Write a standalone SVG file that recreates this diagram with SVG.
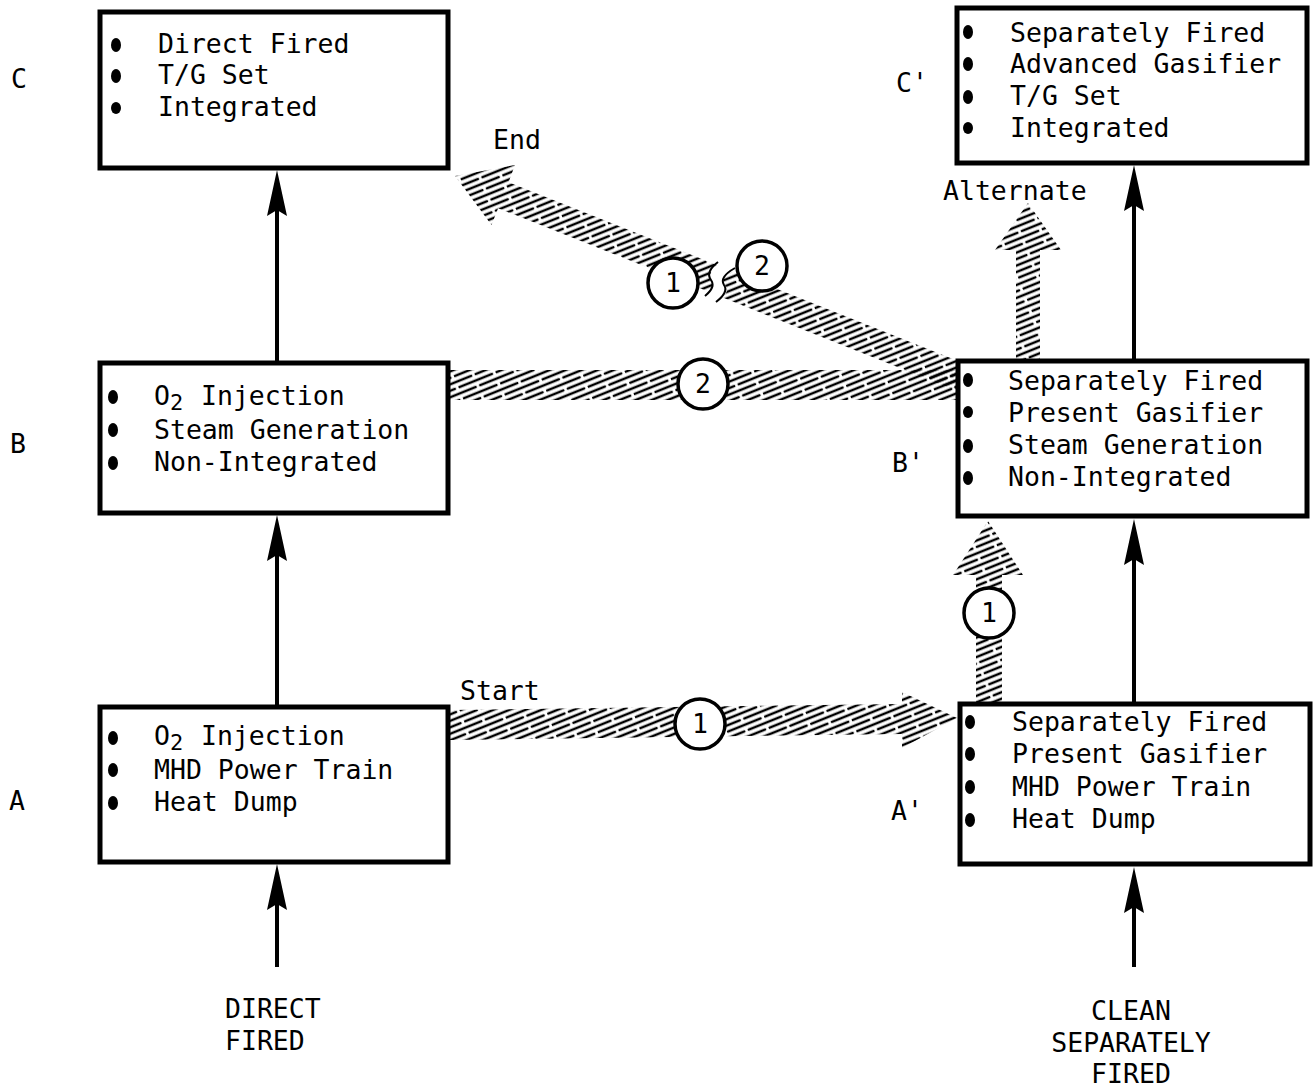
<svg xmlns="http://www.w3.org/2000/svg" xmlns:xlink="http://www.w3.org/1999/xlink" width="1316" height="1090" viewBox="0 0 1316 1090">
<style>
.box{fill:#fff;stroke:#000;stroke-width:5}
.t{font-family:"DejaVu Sans Mono","Liberation Mono",monospace;font-size:26.5px;fill:#000}
.sub{font-size:22px}
.tm{font-family:"DejaVu Sans Mono","Liberation Mono",monospace;font-size:26.5px;fill:#000;text-anchor:middle}
.bul{fill:#000}
.ln{stroke:#000;stroke-width:4;fill:none}
.band{fill:url(#hatch);stroke:none}
.circ{fill:#fff;stroke:#000;stroke-width:3.5}
.cut{fill:none;stroke:#000;stroke-width:2}
</style>
<defs>
<pattern id="hatch" patternUnits="userSpaceOnUse" width="40" height="12" patternTransform="rotate(-22)">
<g stroke="#000" stroke-width="2.6" stroke-linecap="round">
<line x1="1" y1="3" x2="36" y2="3"/>
<line x1="-19" y1="9" x2="16" y2="9"/>
<line x1="21" y1="9" x2="56" y2="9"/>
</g>
</pattern>
<path id="ahead" d="M0,0 L10,46 L0,40 L-10,46 Z" fill="#000"/>
</defs>
<rect width="1316" height="1090" fill="#fff"/>

<g id="connectors">
<line class="ln" x1="277" y1="363" x2="277" y2="200"/>
<use xlink:href="#ahead" x="277" y="170"/>
<line class="ln" x1="277" y1="707" x2="277" y2="545"/>
<use xlink:href="#ahead" x="277" y="515"/>
<line class="ln" x1="277" y1="967" x2="277" y2="895"/>
<use xlink:href="#ahead" x="277" y="864"/>
<line class="ln" x1="1134" y1="361" x2="1134" y2="195"/>
<use xlink:href="#ahead" x="1134" y="165"/>
<line class="ln" x1="1134" y1="704" x2="1134" y2="548"/>
<use xlink:href="#ahead" x="1134" y="519"/>
<line class="ln" x1="1134" y1="967" x2="1134" y2="897"/>
<use xlink:href="#ahead" x="1134" y="867"/>

<polygon class="band" points="450,710 902,704 902,692 957,718 902,748 902,734 450,740"/>
<polygon class="band" points="450,370 958,370 958,400 450,400"/>
<polygon class="band" points="976,704 976,575 953,575 988,521 1023,575 1002,575 1002,704"/>
<polygon class="band" points="1016,361 1016,250 995,250 1028,203 1061,250 1040,250 1040,361"/>
<path class="band" d="M455,176 L515,165 L508.5,182.2 L717,265 Q706,276 712,281 Q716,287 707,291 L498.1,208.2 L491.5,225 Z"/>
<path class="band" d="M733,271.6 L958,361 L958,391 L722.8,297.6 Q730,290 725,285 Q720,278 733,271.6 Z"/>
<path class="cut" d="M718,262 Q705,272 711,280 Q716,287 705,296"/>
<path class="cut" d="M735,268 Q719,277 724,285 Q729,292 716,302"/>

<circle class="circ" cx="700" cy="724" r="25"/>
<text class="tm" x="700" y="733">1</text>
<circle class="circ" cx="703" cy="384" r="25"/>
<text class="tm" x="703" y="393">2</text>
<circle class="circ" cx="989" cy="613" r="25"/>
<text class="tm" x="989" y="622">1</text>
<circle class="circ" cx="673" cy="283" r="25"/>
<text class="tm" x="673" y="292">1</text>
<circle class="circ" cx="762" cy="266" r="25"/>
<text class="tm" x="762" y="275">2</text>

<text class="t" x="493" y="149">End</text>
<text class="t" x="460" y="700">Start</text>
<text class="t" x="943" y="200">Alternate</text>
</g>

<g id="nodeC">
<rect class="box" x="100" y="12" width="348" height="156"/>
<ellipse class="bul" cx="116" cy="45" rx="5" ry="7"/>
<ellipse class="bul" cx="116" cy="76" rx="5" ry="7"/>
<ellipse class="bul" cx="116" cy="108" rx="5" ry="6"/>
<text class="t" x="158" y="53">Direct Fired</text>
<text class="t" x="158" y="84">T/G Set</text>
<text class="t" x="158" y="116">Integrated</text>
<text class="t" x="11" y="88">C</text>
</g>

<g id="nodeB">
<rect class="box" x="100" y="363" width="348" height="150"/>
<ellipse class="bul" cx="113" cy="397" rx="5" ry="7"/>
<ellipse class="bul" cx="113" cy="430" rx="5" ry="7"/>
<ellipse class="bul" cx="113" cy="463" rx="5" ry="7"/>
<text class="t" x="154" y="405">O<tspan class="sub" dy="5">2</tspan><tspan dy="-5" x="201">Injection</tspan></text>
<text class="t" x="154" y="439">Steam Generation</text>
<text class="t" x="154" y="471">Non-Integrated</text>
<text class="t" x="10" y="453">B</text>
</g>

<g id="nodeA">
<rect class="box" x="100" y="707" width="348" height="155"/>
<ellipse class="bul" cx="113" cy="738" rx="5" ry="7"/>
<ellipse class="bul" cx="113" cy="770" rx="5" ry="7"/>
<ellipse class="bul" cx="113" cy="803" rx="5" ry="7"/>
<text class="t" x="154" y="745">O<tspan class="sub" dy="5">2</tspan><tspan dy="-5" x="201">Injection</tspan></text>
<text class="t" x="154" y="779">MHD Power Train</text>
<text class="t" x="154" y="811">Heat Dump</text>
<text class="t" x="9" y="810">A</text>
</g>

<g id="nodeC2">
<rect class="box" x="957" y="8" width="350" height="155"/>
<ellipse class="bul" cx="968" cy="32" rx="5" ry="7"/>
<ellipse class="bul" cx="968" cy="64" rx="5" ry="7"/>
<ellipse class="bul" cx="968" cy="97" rx="5" ry="7"/>
<ellipse class="bul" cx="968" cy="128" rx="5" ry="6"/>
<text class="t" x="1010" y="42">Separately Fired</text>
<text class="t" x="1010" y="73">Advanced Gasifier</text>
<text class="t" x="1010" y="105">T/G Set</text>
<text class="t" x="1010" y="137">Integrated</text>
<text class="t" x="896" y="92">C'</text>
</g>

<g id="nodeB2">
<rect class="box" x="958" y="361" width="349" height="155"/>
<ellipse class="bul" cx="968" cy="380" rx="5" ry="7"/>
<ellipse class="bul" cx="968" cy="412" rx="5" ry="6"/>
<ellipse class="bul" cx="968" cy="446" rx="5" ry="7"/>
<ellipse class="bul" cx="968" cy="478" rx="5" ry="7"/>
<text class="t" x="1008" y="390">Separately Fired</text>
<text class="t" x="1008" y="422">Present Gasifier</text>
<text class="t" x="1008" y="454">Steam Generation</text>
<text class="t" x="1008" y="486">Non-Integrated</text>
<text class="t" x="892" y="472">B'</text>
</g>

<g id="nodeA2">
<rect class="box" x="960" y="704" width="350" height="160"/>
<ellipse class="bul" cx="970" cy="722" rx="5" ry="7"/>
<ellipse class="bul" cx="970" cy="754" rx="5" ry="7"/>
<ellipse class="bul" cx="970" cy="787" rx="5" ry="7"/>
<ellipse class="bul" cx="970" cy="820" rx="5" ry="7"/>
<text class="t" x="1012" y="731">Separately Fired</text>
<text class="t" x="1012" y="763">Present Gasifier</text>
<text class="t" x="1012" y="796">MHD Power Train</text>
<text class="t" x="1012" y="828">Heat Dump</text>
<text class="t" x="891" y="820">A'</text>
</g>

<g id="srcDirect">
<text class="t" x="225" y="1018">DIRECT</text>
<text class="t" x="225" y="1050">FIRED</text>
</g>
<g id="srcClean">
<text class="tm" x="1131" y="1020">CLEAN</text>
<text class="tm" x="1131" y="1052">SEPARATELY</text>
<text class="tm" x="1131" y="1083">FIRED</text>
</g>
</svg>
